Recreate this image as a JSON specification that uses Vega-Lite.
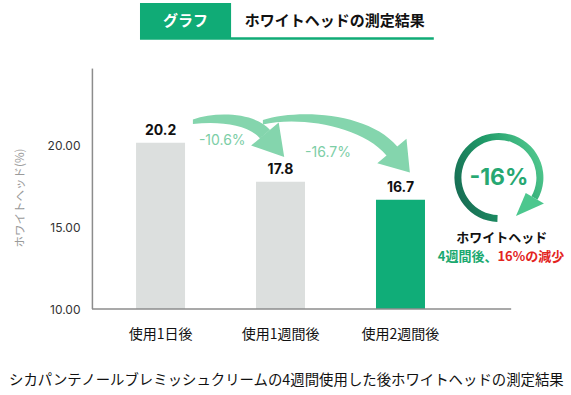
{
  "$schema": "https://vega.github.io/schema/vega-lite/v6.json",
  "width": 484,
  "height": 395,
  "autosize": {"type": "none"},
  "padding": {"left": 87, "top": 0, "right": 0, "bottom": 0},
  "background": "white",
  "config": {"view": {"stroke": null}, "font": "Noto Sans CJK JP"},
  "layer": [
    {
      "data": {"values": [
        {"idx": 1, "period": "使用1日後", "value": 20.2},
        {"idx": 2, "period": "使用1週間後", "value": 17.8},
        {"idx": 3, "period": "使用2週間後", "value": 16.7}
      ]},
      "layer": [
        {
          "mark": {"type": "bar", "size": 49},
          "encoding": {
            "x": {"field": "idx", "type": "quantitative", "scale": {"domain": [0.42857, 4.3796], "nice": false, "zero": false}, "axis": null},
            "y": {"field": "value", "type": "quantitative", "scale": {"domain": [4.724, 28.957], "nice": false, "zero": false},
              "axis": {"values": [10, 15, 20], "format": ".2f", "ticks": false, "domain": false, "grid": false,
                "labelFont": "Inter", "labelFontSize": 12, "labelColor": "#333333", "labelPadding": 7,
                "title": "ホワイトヘッド(%)", "titleFont": "Noto Sans CJK JP", "titleFontSize": 11.5, "titleFontWeight": "normal", "titleColor": "#9a9a9a", "titlePadding": 22}},
            "y2": {"datum": 10},
            "color": {"condition": {"test": "datum.idx === 3", "value": "#10ad78"}, "value": "#dcdfde"}
          }
        },
        {
          "mark": {"type": "text", "dy": -12, "fontSize": 14, "fontWeight": "bold", "font": "Inter", "color": "#111111"},
          "encoding": {
            "x": {"field": "idx", "type": "quantitative"},
            "y": {"field": "value", "type": "quantitative"},
            "text": {"field": "value", "type": "quantitative", "format": ".1f"}
          }
        },
        {
          "mark": {"type": "text", "fontSize": 14, "font": "Noto Sans CJK JP", "color": "#111111"},
          "encoding": {
            "x": {"field": "idx", "type": "quantitative"},
            "y": {"datum": 8.405, "type": "quantitative"},
            "text": {"field": "period", "type": "nominal"}
          }
        }
      ]
    },
    {
      "data": {"values": [{"x0": 0.42857, "x1": 3.9225, "y0": 10}]},
      "mark": {"type": "rule", "color": "#8c8c8c", "strokeWidth": 1.5},
      "encoding": {
        "x": {"field": "x0", "type": "quantitative"},
        "x2": {"field": "x1"},
        "y": {"field": "y0", "type": "quantitative"}
      }
    },
    {
      "data": {"values": [{"x0": 0.432, "y0": 10, "y1": 24.75}]},
      "mark": {"type": "rule", "color": "#8c8c8c", "strokeWidth": 1.5},
      "encoding": {
        "x": {"field": "x0", "type": "quantitative"},
        "y": {"field": "y0", "type": "quantitative"},
        "y2": {"field": "y1"}
      }
    },
    {
      "data": {"values": [{"x0": 0.8286, "x1": 1.5878, "y0": 26.564, "y1": 28.773}]},
      "mark": {"type": "rect", "color": "#10ab76"},
      "encoding": {
        "x": {"field": "x0", "type": "quantitative"},
        "x2": {"field": "x1"},
        "y": {"field": "y0", "type": "quantitative"},
        "y2": {"field": "y1"}
      }
    },
    {
      "data": {"values": [{"x0": 0.8286, "x1": 3.2776, "y0": 26.595}]},
      "mark": {"type": "rule", "color": "#10ab76", "strokeWidth": 2.5},
      "encoding": {
        "x": {"field": "x0", "type": "quantitative"},
        "x2": {"field": "x1"},
        "y": {"field": "y0", "type": "quantitative"}
      }
    },
    {
      "data": {"values": [{"x": 1.2082, "y": 27.669, "t": "グラフ"}]},
      "mark": {"type": "text", "fontSize": 15, "fontWeight": "bold", "color": "white", "font": "Noto Sans CJK JP"},
      "encoding": {"x": {"field": "x", "type": "quantitative"}, "y": {"field": "y", "type": "quantitative"}, "text": {"field": "t"}}
    },
    {
      "data": {"values": [{"x": 1.702, "y": 27.669, "t": "ホワイトヘッドの測定結果"}]},
      "mark": {"type": "text", "align": "left", "fontSize": 15, "fontWeight": "bold", "color": "#111111", "font": "Noto Sans CJK JP"},
      "encoding": {"x": {"field": "x", "type": "quantitative"}, "y": {"field": "y", "type": "quantitative"}, "text": {"field": "t"}}
    },
    {
      "data": {"values": [{"name": "arrow1", "x": 1.6531, "y": 20.368}]},
      "mark": {"type": "point", "shape": "M-0.92,-0.41C-0.44,-0.58,0.34,-0.54,0.62,-0.204L0.42,-0.036C0.18,-0.32,-0.42,-0.38,-0.92,-0.32ZM0.796,-0.352L0.906,0.34L0.244,0.112Z", "size": 10000, "filled": true, "color": "#84d5ad", "opacity": 1, "strokeWidth": 0},
      "encoding": {"x": {"field": "x", "type": "quantitative"}, "y": {"field": "y", "type": "quantitative"}}
    },
    {
      "data": {"values": [{"name": "arrow2", "x": 2.4531, "y": 20.368}]},
      "mark": {"type": "point", "shape": "M-1.44,-0.4C-0.74,-0.62,0.66,-0.56,1.248,0.13L1.032,0.31C0.54,-0.28,-0.7,-0.48,-1.44,-0.31ZM1.432,-0.024L1.5,0.648L0.848,0.464Z", "size": 10000, "filled": true, "color": "#84d5ad", "opacity": 1, "strokeWidth": 0},
      "encoding": {"x": {"field": "x", "type": "quantitative"}, "y": {"field": "y", "type": "quantitative"}}
    },
    {
      "data": {"values": [{"x": 1.5143, "y": 20.307, "t": "-10.6%"}, {"x": 2.3959, "y": 19.57, "t": "-16.7%"}]},
      "mark": {"type": "text", "fontSize": 14, "font": "Inter", "color": "#7ccea6"},
      "encoding": {"x": {"field": "x", "type": "quantitative"}, "y": {"field": "y", "type": "quantitative"}, "text": {"field": "t"}}
    },
    {
      "data": {"values": [{"x": 3.8204, "y": 18.067}]},
      "mark": {"type": "arc", "theta": 3.176, "theta2": 8.378, "outerRadius": 44.5, "innerRadius": 37.5,
        "fill": {"gradient": "linear", "x1": 0, "y1": 0.7, "x2": 1, "y2": 0.3, "stops": [{"offset": 0, "color": "#176b53"}, {"offset": 0.5, "color": "#1f9a68"}, {"offset": 1, "color": "#52c98f"}]}},
      "encoding": {"x": {"field": "x", "type": "quantitative"}, "y": {"field": "y", "type": "quantitative"}}
    },
    {
      "data": {"values": [{"x": 3.8204, "y": 18.067}]},
      "mark": {"type": "point", "shape": "M0.537,0.31L0.9006,0.52L0.3416,0.7674Z", "size": 10000, "filled": true, "color": "#4cc78e", "opacity": 1, "strokeWidth": 0},
      "encoding": {"x": {"field": "x", "type": "quantitative"}, "y": {"field": "y", "type": "quantitative"}}
    },
    {
      "data": {"values": [{"x": 3.8204, "y": 18.067, "t": "-16%"}]},
      "mark": {"type": "text", "fontSize": 23, "fontWeight": "bold", "font": "Inter", "color": "#27a872"},
      "encoding": {"x": {"field": "x", "type": "quantitative"}, "y": {"field": "y", "type": "quantitative"}, "text": {"field": "t"}}
    },
    {
      "data": {"values": [{"x": 3.8449, "y": 14.356, "t": "ホワイトヘッド"}]},
      "mark": {"type": "text", "fontSize": 13, "fontWeight": "bold", "font": "Noto Sans CJK JP", "color": "#111111"},
      "encoding": {"x": {"field": "x", "type": "quantitative"}, "y": {"field": "y", "type": "quantitative"}, "text": {"field": "t"}}
    },
    {
      "data": {"values": [{"x": 3.8082, "y": 13.19, "t": "4週間後、"}]},
      "mark": {"type": "text", "align": "right", "fontSize": 13, "fontWeight": "bold", "font": "Noto Sans CJK JP", "color": "#1aa96f"},
      "encoding": {"x": {"field": "x", "type": "quantitative"}, "y": {"field": "y", "type": "quantitative"}, "text": {"field": "t"}}
    },
    {
      "data": {"values": [{"x": 3.8082, "y": 13.19, "t": "16%の減少"}]},
      "mark": {"type": "text", "align": "left", "fontSize": 13, "fontWeight": "bold", "font": "Noto Sans CJK JP", "color": "#e3241e"},
      "encoding": {"x": {"field": "x", "type": "quantitative"}, "y": {"field": "y", "type": "quantitative"}, "text": {"field": "t"}}
    },
    {
      "data": {"values": [{"x": 2.049, "y": 5.583, "t": "シカパンテノールブレミッシュクリームの4週間使用した後ホワイトヘッドの測定結果"}]},
      "mark": {"type": "text", "fontSize": 14.4, "font": "Noto Sans CJK JP", "color": "#111111"},
      "encoding": {"x": {"field": "x", "type": "quantitative"}, "y": {"field": "y", "type": "quantitative"}, "text": {"field": "t"}}
    }
  ]
}
